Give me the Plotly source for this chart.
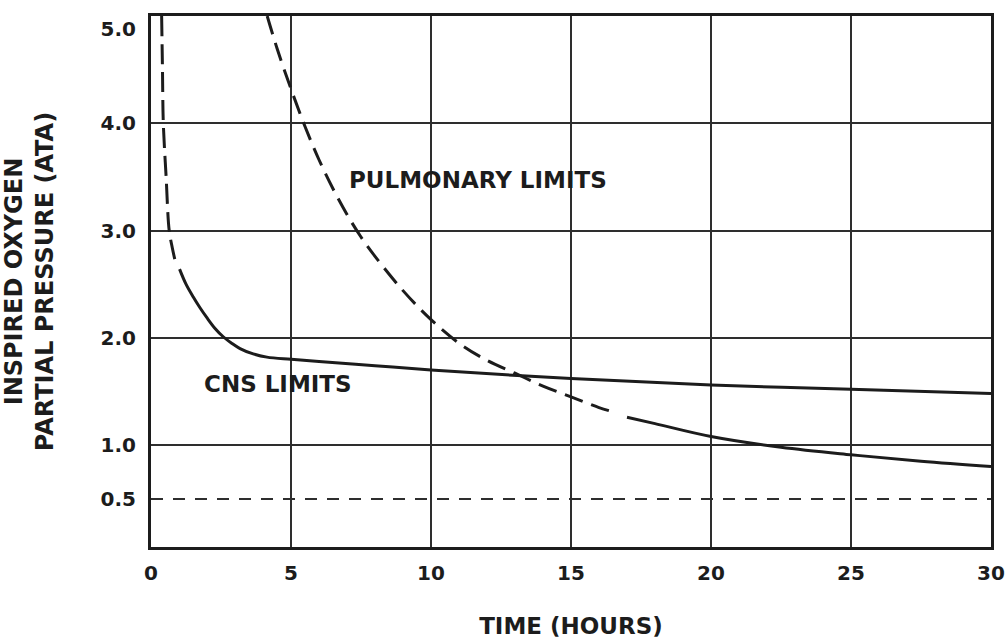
import plotly.graph_objects as go

# ---- data ----
cns_dash_hours = [0.38, 0.41, 0.44, 0.54, 0.65, 0.76, 0.86]
cns_dash_ata = [5.0, 4.5, 4.0, 3.5, 3.0, 2.84, 2.72]

cns_solid_hours = [1.02, 1.25, 1.51, 1.75, 1.99, 2.28, 2.58, 2.88, 3.18, 3.65, 4.14, 5.0, 6.0, 8.0, 10.0, 15.0, 20.0, 25.0, 30.0]
cns_solid_ata = [2.64, 2.50, 2.38, 2.28, 2.19, 2.09, 2.01, 1.95, 1.90, 1.85, 1.82, 1.80, 1.78, 1.74, 1.70, 1.62, 1.56, 1.52, 1.48]

pulm_dash_hours = [4.15, 4.5, 5.0, 5.5, 6.0, 6.5, 7.0, 7.5, 8.0, 9.0, 10.0, 11.0, 12.0, 13.0, 14.0, 15.0, 16.0, 16.5]
pulm_dash_ata = [5.0, 4.70, 4.32, 3.97, 3.66, 3.39, 3.15, 2.94, 2.76, 2.44, 2.17, 1.95, 1.79, 1.67, 1.55, 1.45, 1.35, 1.31]

pulm_solid_hours = [17.0, 18.0, 20.0, 22.5, 25.0, 27.5, 30.0]
pulm_solid_ata = [1.26, 1.20, 1.08, 0.98, 0.91, 0.85, 0.80]

x_ticks = [0, 5, 10, 15, 20, 25, 30]
y_ticks = [0.5, 1.0, 2.0, 3.0, 4.0, 5.0]
# in the original print the top label sits just below the top frame line
y_ticklabels = ["0.5", "1.0", "2.0", "3.0", "4.0", "<br>5.0"]
y_solid_grid = [1.0, 2.0, 3.0, 4.0]

INK = "#1c1c1c"
FONT = "DejaVu Sans"

fig = go.Figure()

fig.add_trace(go.Scatter(x=cns_dash_hours, y=cns_dash_ata, mode="lines",
                         line=dict(color=INK, width=3, dash="20px,8px", shape="spline"),
                         showlegend=False, hoverinfo="skip"))
fig.add_trace(go.Scatter(x=cns_solid_hours, y=cns_solid_ata, mode="lines",
                         line=dict(color=INK, width=3, shape="spline"),
                         name="CNS limits", showlegend=False))
fig.add_trace(go.Scatter(x=pulm_dash_hours, y=pulm_dash_ata, mode="lines",
                         line=dict(color=INK, width=3, dash="19px,9px", shape="spline"),
                         name="Pulmonary limits", showlegend=False))
fig.add_trace(go.Scatter(x=pulm_solid_hours, y=pulm_solid_ata, mode="lines",
                         line=dict(color=INK, width=3, shape="spline"),
                         showlegend=False, hoverinfo="skip"))

fig.add_annotation(x=7.0, y=3.47, text="PULMONARY LIMITS", xanchor="left", yanchor="middle",
                   showarrow=False, font=dict(family=FONT, size=23, color=INK, weight="bold"))
fig.add_annotation(x=1.82, y=1.57, text="CNS LIMITS", xanchor="left", yanchor="middle",
                   showarrow=False, font=dict(family=FONT, size=23, color=INK, weight="bold"))

fig.update_layout(
    width=1006, height=639,
    margin=dict(l=151, r=15, t=16, b=92, autoexpand=False),
    paper_bgcolor="white", plot_bgcolor="white",
    font=dict(family=FONT, color=INK),
)

fig.update_xaxes(
    range=[0, 30], tickmode="array", tickvals=x_ticks,
    showgrid=True, gridcolor="#2e2e2e", gridwidth=1.6,
    showline=True, linecolor=INK, linewidth=3, mirror=True,
    zeroline=False, ticks="", ticklabelstandoff=6, automargin=False,
    ticklabeloverflow="allow",
    tickfont=dict(family=FONT, size=20, color=INK, weight="bold"),
    title=dict(text="TIME (HOURS)", standoff=35,
               font=dict(family=FONT, size=23, color=INK, weight="bold")),
)

fig.update_yaxes(
    range=[0.05, 5.0], tickmode="array", tickvals=y_ticks, ticktext=y_ticklabels,
    showgrid=True, gridcolor="#2e2e2e", gridwidth=1.6, griddash="12px,10px",
    minor=dict(tickmode="array", tickvals=y_solid_grid, showgrid=True,
               gridcolor="#2e2e2e", gridwidth=1.6, griddash="solid", ticks=""),
    showline=True, linecolor=INK, linewidth=3, mirror=True,
    zeroline=False, ticks="", ticklabelstandoff=8, automargin=False,
    ticklabeloverflow="allow",
    tickfont=dict(family=FONT, size=20, color=INK, weight="bold"),
    title=dict(text="INSPIRED OXYGEN<br>PARTIAL PRESSURE (ATA)", standoff=50,
               font=dict(family=FONT, size=24, color=INK, weight="bold")),
)

# drop the browser's default 8px page margin so the figure fills the window exactly
fig.write_html("out.html",
               config={"displayModeBar": False},
               post_script="document.body.style.margin='0px';document.body.style.overflow='hidden';")
